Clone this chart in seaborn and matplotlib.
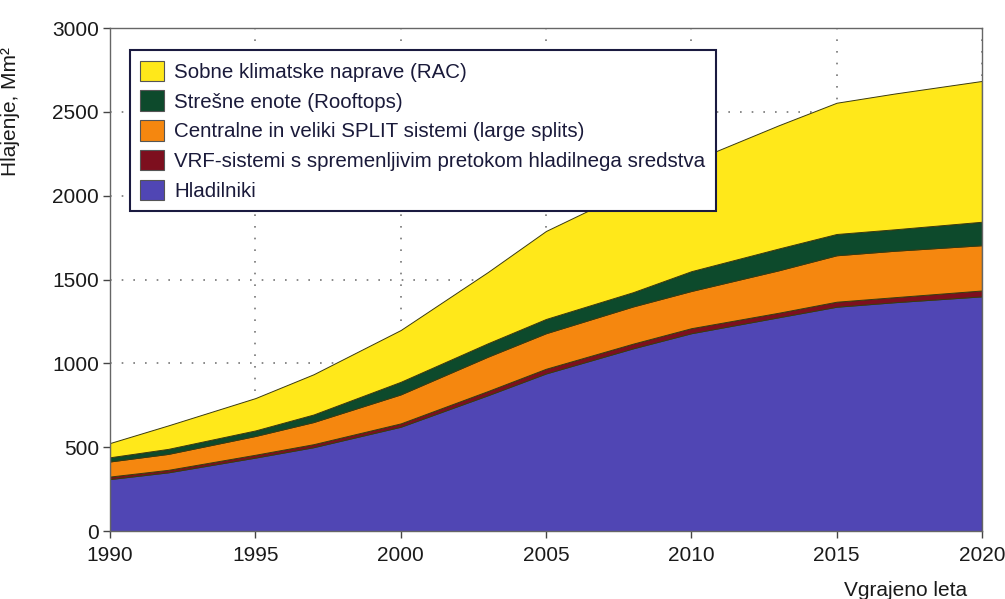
import numpy as np
import pandas as pd
import matplotlib
matplotlib.use('Agg')
import matplotlib.pyplot as plt
import seaborn as sns

# values (Mm2), per layer
years = [1990, 1992, 1995, 1997, 2000, 2003, 2005, 2008, 2010, 2013, 2015, 2017, 2020]
hladilniki = [310, 350, 438, 500, 622, 810, 940, 1090, 1180, 1275, 1338, 1365, 1400]
vrf = [15, 15, 17, 18, 20, 25, 28, 28, 30, 27, 30, 30, 35]
centralne = [90, 95, 112, 132, 173, 205, 212, 222, 222, 253, 277, 277, 270]
stresne = [25, 30, 33, 45, 75, 80, 85, 85, 118, 130, 127, 128, 140]
sobne = [85, 140, 193, 240, 309, 425, 525, 615, 655, 735, 783, 810, 840]

labels = [
    'Hladilniki',
    'VRF-sistemi s spremenljivim pretokom hladilnega sredstva',
    'Centralne in veliki SPLIT sistemi (large splits)',
    'Strešne enote (Rooftops)',
    'Sobne klimatske naprave (RAC)',
]
colors = ['#5046b4', '#7d0f1e', '#f5870f', '#0d4a2c', '#ffe81a']

df = pd.DataFrame({'leto': years, labels[0]: hladilniki, labels[1]: vrf,
                   labels[2]: centralne, labels[3]: stresne, labels[4]: sobne})

sns.set_theme(style='white')
plt.rcParams['font.family'] = ['Liberation Sans', 'DejaVu Sans']

fig = plt.figure(figsize=(10.05, 5.99), dpi=100)
ax = fig.add_axes([0.1095, 0.1135, 0.8675, 0.8395])

ax.set_axisbelow(True)
ax.grid(True, color='#777777', linestyle=(0, (1, 6)), linewidth=1.2)

polys = ax.stackplot(df['leto'], [df[l] for l in labels], colors=colors,
                     labels=labels, edgecolor='#3a3a10', linewidth=0.7, zorder=2)

ax.set_xlim(1990, 2020)
ax.set_ylim(0, 3000)
ax.set_xticks(range(1990, 2021, 5))
ax.set_yticks(range(0, 3001, 500))
ax.tick_params(axis='both', direction='out', length=5, width=1, color='#444444',
               labelsize=15, labelcolor='#1a1a1a', left=True, bottom=True)
ax.tick_params(axis='x', pad=6)
ax.tick_params(axis='y', pad=3)
for s in ax.spines.values():
    s.set_color('#666666')
    s.set_linewidth(1)

ax.set_ylabel('Hlajenje, Mm²', fontsize=15, color='#1a1a1a')
ax.yaxis.set_label_coords(-0.103, 0.835)
ax.set_xlabel('Vgrajeno leta', fontsize=15, color='#1a1a1a')
ax.xaxis.set_label_coords(0.912, -0.1)

handles, lab = ax.get_legend_handles_labels()
leg = ax.legend(handles[::-1], lab[::-1], loc='upper left', bbox_to_anchor=(0.023, 0.956),
                borderaxespad=0, fontsize=14.8, frameon=True, fancybox=False,
                edgecolor='#1a1a40', framealpha=1, handlelength=1.15, handleheight=1.15,
                labelspacing=0.42, handletextpad=0.5, borderpad=0.5)
leg.get_frame().set_linewidth(1.5)
for t in leg.get_texts():
    t.set_color('#1a1a3a')
for h in leg.legend_handles:
    h.set_edgecolor('#555555')
    h.set_linewidth(0.8)

fig.savefig('out.png', dpi=100)
